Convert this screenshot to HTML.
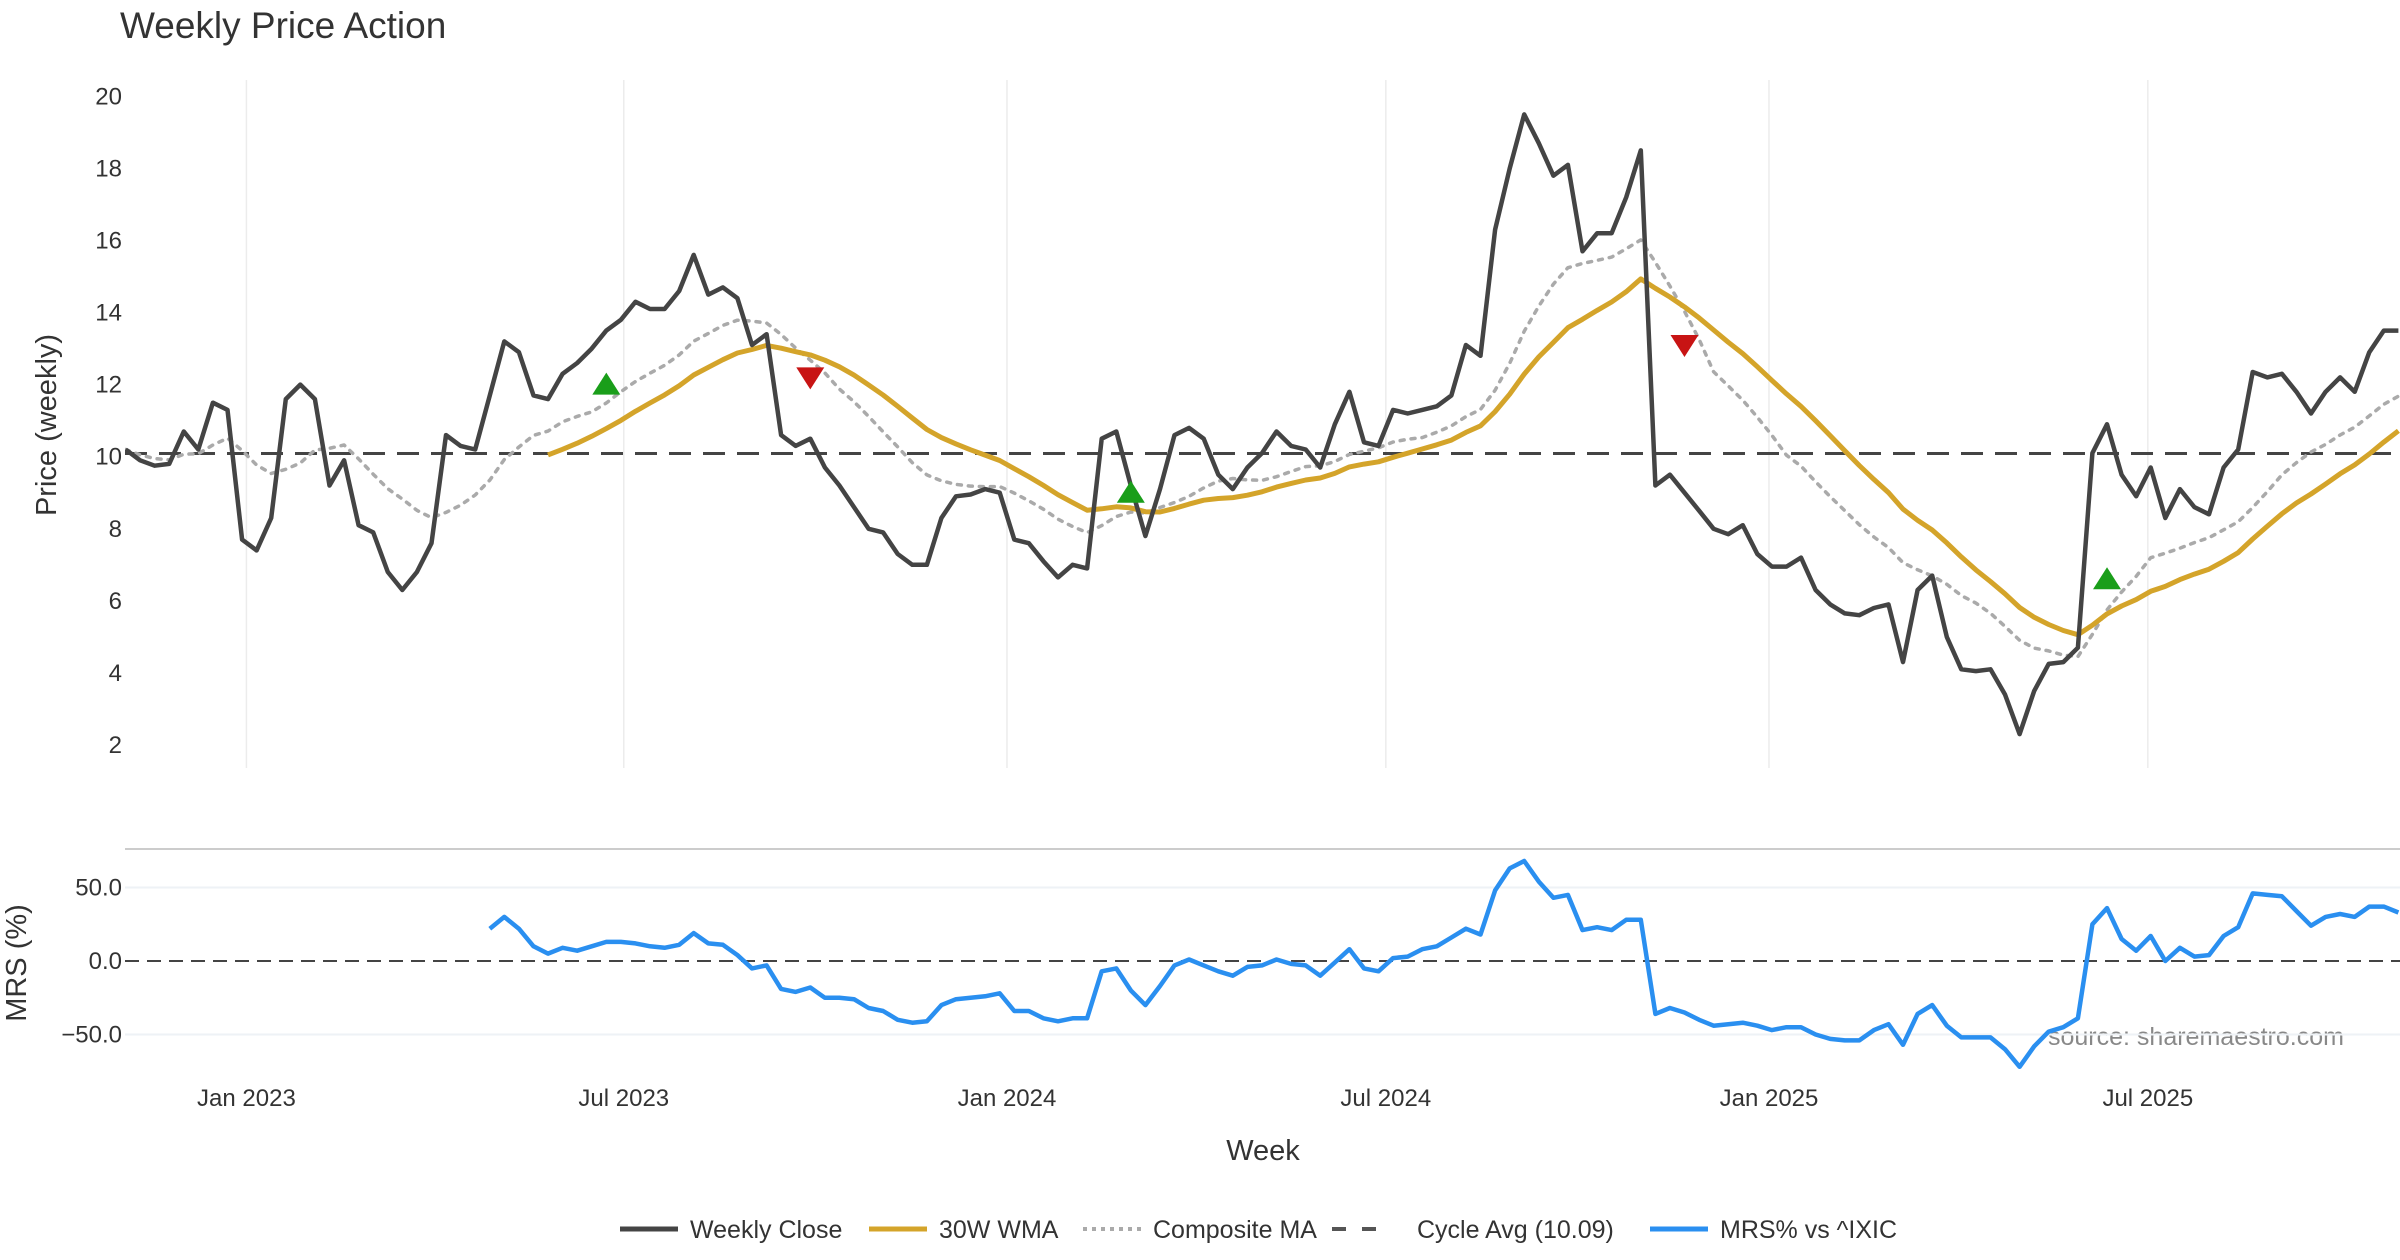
<!DOCTYPE html>
<html><head><meta charset="utf-8"><style>
html,body{margin:0;padding:0;background:#fff;width:2400px;height:1260px;overflow:hidden;}
svg{display:block;font-family:"Liberation Sans","DejaVu Sans",sans-serif;}
</style></head><body>
<svg id="chart" width="2400" height="1260" viewBox="0 0 2400 1260" xmlns="http://www.w3.org/2000/svg">
<defs><clipPath id="clipTop"><rect x="125" y="80" width="2275" height="690"/></clipPath>
<clipPath id="clipBot"><rect x="125" y="850" width="2275" height="225"/></clipPath></defs>
<text x="120" y="38" font-size="37" fill="#333">Weekly Price Action</text>
<text transform="translate(56,425) rotate(-90)" text-anchor="middle" font-size="29" fill="#333">Price (weekly)</text>
<text transform="translate(26,963) rotate(-90)" text-anchor="middle" font-size="29" fill="#333">MRS (%)</text>
<text x="1263" y="1160" text-anchor="middle" font-size="29" fill="#333">Week</text>
<text x="2048" y="1045" font-size="25" fill="#888">source: sharemaestro.com</text>
<g id="grid"></g>
<g id="topMarks" clip-path="url(#clipTop)"></g>
<g id="botMarks" clip-path="url(#clipBot)"></g>
<g id="axes"></g>
<g id="legend"></g>
</svg>
<script>
const closes=[10.2,9.9,9.75,9.8,10.7,10.2,11.5,11.3,7.7,7.4,8.3,11.6,12.0,11.6,9.2,9.9,8.1,7.9,6.8,6.3,6.8,7.6,10.6,10.3,10.2,11.7,13.2,12.9,11.7,11.6,12.3,12.6,13.0,13.5,13.8,14.3,14.1,14.1,14.6,15.6,14.5,14.7,14.4,13.1,13.4,10.6,10.3,10.5,9.7,9.2,8.6,8.0,7.9,7.3,7.0,7.0,8.3,8.9,8.95,9.1,9.0,7.7,7.6,7.1,6.65,7.0,6.9,10.5,10.7,9.2,7.8,9.1,10.6,10.8,10.5,9.5,9.1,9.7,10.1,10.7,10.3,10.2,9.7,10.9,11.8,10.4,10.3,11.3,11.2,11.3,11.4,11.7,13.1,12.8,16.3,18.0,19.5,18.7,17.8,18.1,15.7,16.2,16.2,17.2,18.5,9.2,9.5,9.0,8.5,8.0,7.85,8.1,7.3,6.95,6.95,7.2,6.3,5.9,5.65,5.6,5.8,5.9,4.3,6.3,6.7,5.0,4.1,4.05,4.1,3.4,2.3,3.5,4.25,4.3,4.7,10.1,10.9,9.5,8.9,9.7,8.3,9.1,8.6,8.4,9.7,10.2,12.35,12.2,12.3,11.8,11.2,11.8,12.2,11.8,12.9,13.5,13.5];
const mrsStart=25;
const mrs=[22,30,22,10,5,9,7,10,13,13,12,10,9,11,19,12,11,4,-5,-3,-19,-21,-18,-25,-25,-26,-32,-34,-40,-42,-41,-30,-26,-25,-24,-22,-34,-34,-39,-41,-39,-39,-7,-5,-20,-30,-17,-3,1,-3,-7,-10,-4,-3,1,-2,-3,-10,-1,8,-5,-7,2,3,8,10,16,22,18,48,63,68,54,43,45,21,23,21,28,28,-36,-32,-35,-40,-44,-43,-42,-44,-47,-45,-45,-50,-53,-54,-54,-47,-43,-57,-36,-30,-44,-52,-52,-52,-60,-72,-58,-48,-45,-39,25,36,15,7,17,0,9,3,4,17,23,46,45,44,34,24,30,32,30,37,37,33];
const cycleAvg=10.09;
const buyIdx=[33,69,136], buyVal=[12.0,9.0,6.6];
const sellIdx=[47,107], sellVal=[12.2,13.1];
const priceTicks=[2,4,6,8,10,12,14,16,18,20];
const mrsTicks=[50,0,-50];
const mrsTickLabels=["50.0","0.0","\u221250.0"];
const monthLabels=["Jan 2023","Jul 2023","Jan 2024","Jul 2024","Jan 2025","Jul 2025"];
const monthWeeks=[8.3,34.2,60.5,86.5,112.8,138.8];

const NS="http://www.w3.org/2000/svg";
const X0=125.5, PXW=14.57;
const xs=i=>X0+i*PXW;
const yTop=v=>96.4+(20-v)*36.03;
const yBot=v=>961-v*1.47;
function mk(tag,attrs,parent){const e=document.createElementNS(NS,tag);for(const k in attrs)e.setAttribute(k,attrs[k]);parent.appendChild(e);return e;}
const grid=document.getElementById('grid'),top_=document.getElementById('topMarks'),bot=document.getElementById('botMarks'),axes=document.getElementById('axes'),leg=document.getElementById('legend');

function sma(i,n){const s=Math.max(0,i-n+1);let t=0;for(let k=s;k<=i;k++)t+=closes[k];return t/(i-s+1);}
function wma(i,n){if(i<n-1)return null;let t=0,w=0;for(let k=0;k<n;k++){t+=closes[i-k]*(n-k);w+=n-k;}return t/w;}
const wmaVals=closes.map((_,i)=>wma(i,30));
const compVals=closes.map((_,i)=>{const a=[sma(i,5),sma(i,10),sma(i,20)];if(wmaVals[i]!==null)a.push(wmaVals[i]);return a.reduce((p,c)=>p+c,0)/a.length;});

monthWeeks.forEach((w,k)=>{
  const g1=mk('line',{x1:xs(w),x2:xs(w),y1:80,y2:768,stroke:'#ececec','stroke-width':1.5},grid);
  
  
  const t=mk('text',{x:xs(w),y:1106,'text-anchor':'middle','font-size':24,fill:'#333'},axes);
  t.textContent=monthLabels[k];
  
  
});
priceTicks.forEach(v=>{
  const t=mk('text',{x:122,y:yTop(v)+8,'text-anchor':'end','font-size':24,fill:'#333'},axes);
  t.textContent=v;
  
  
});
const sep=mk('line',{x1:125,x2:2400,y1:849,y2:849,stroke:'#ccc','stroke-width':2},grid);


mrsTicks.forEach((v,k)=>{
  if(v!==0){const gl=mk('line',{x1:125,x2:2400,y1:yBot(v),y2:yBot(v),stroke:'#eef2f6','stroke-width':2},grid);
  
  }
  const t=mk('text',{x:122,y:yBot(v)+8,'text-anchor':'end','font-size':24,fill:'#333'},axes);
  t.textContent=mrsTickLabels[k];
  
  
});
const z=mk('line',{x1:125,x2:2400,y1:yBot(0),y2:yBot(0),stroke:'#444','stroke-width':2,'stroke-dasharray':'14,8'},bot);



function path(vals,xf,yf,attrs,parent,name){
  let d='';vals.forEach((v,i)=>{if(v===null||v===undefined)return;d+=(d?'L':'M')+xf(i).toFixed(1)+','+yf(v).toFixed(1);});
  const p=mk('path',Object.assign({d:d,fill:'none','stroke-linejoin':'round'},attrs),parent);
  
  
  return p;
}
const ca=mk('line',{x1:125,x2:2400,y1:yTop(cycleAvg),y2:yTop(cycleAvg),stroke:'#444','stroke-width':3,'stroke-dasharray':'22,12'},top_);


path(compVals,xs,yTop,{stroke:'#aaa','stroke-width':3.5,'stroke-dasharray':'4,7','stroke-linecap':'round'},top_,'composite-ma-line');
path(wmaVals,xs,yTop,{stroke:'#d4a42a','stroke-width':5},top_,'wma-30w-line');
path(closes,xs,yTop,{stroke:'#444','stroke-width':4.5},top_,'weekly-close-line');
buyIdx.forEach((i,k)=>{const x=xs(i),y=yTop(buyVal[k]);
  const p=mk('polygon',{points:`${x-14},${y+10} ${x+14},${y+10} ${x},${y-12}`,fill:'#1a9e1a'},top_);
  
  });
sellIdx.forEach((i,k)=>{const x=xs(i),y=yTop(sellVal[k]);
  const p=mk('polygon',{points:`${x-14},${y-10} ${x+14},${y-10} ${x},${y+12}`,fill:'#c81414'},top_);
  
  });
path(mrs,i=>xs(i+mrsStart),yBot,{stroke:'#2a8ff0','stroke-width':4.5},bot,'mrs-line');

const items=[["Weekly Close",{stroke:'#444','stroke-width':5}],["30W WMA",{stroke:'#d4a42a','stroke-width':5}],["Composite MA",{stroke:'#aaa','stroke-width':4,'stroke-dasharray':'4,5'}],["Cycle Avg (10.09)",{stroke:'#555','stroke-width':4,'stroke-dasharray':'14,16'}],["MRS% vs ^IXIC",{stroke:'#2a8ff0','stroke-width':5}]];
const lx=[620,869,1083,1332,1650];
const tx=[690,939,1153,1417,1720];
items.forEach((it,k)=>{
  const g=mk('g',{},leg);
  
  
  mk('line',Object.assign({x1:lx[k],x2:lx[k]+58,y1:1229,y2:1229},it[1]),g);
  const t=mk('text',{x:tx[k],y:1238,'font-size':25,fill:'#333'},g);
  t.textContent=it[0];
});
</script>
</body></html>
